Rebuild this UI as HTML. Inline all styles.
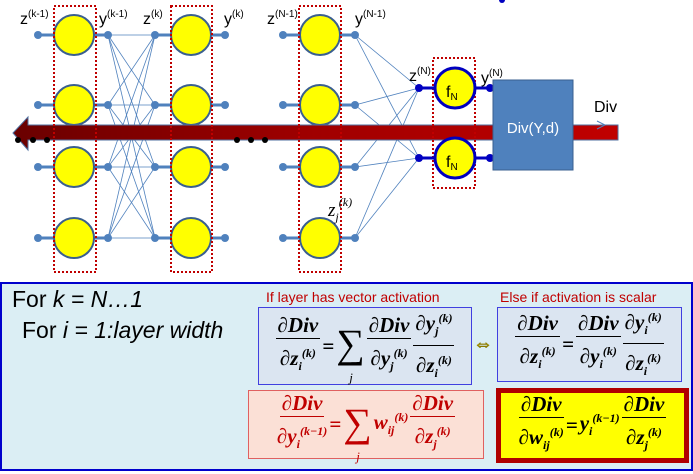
<!DOCTYPE html>
<html><head><meta charset="utf-8"><style>
body{margin:0;width:693px;height:471px;overflow:hidden;background:#fff;font-family:"Liberation Sans",sans-serif;position:relative}
.p{position:absolute}
.fr{display:inline-flex;flex-direction:column;align-items:center;vertical-align:middle}
.fr .n{border-bottom:1.5px solid currentColor;padding:0 2px;line-height:26px}
.fr .d{line-height:28px}
.m{font-family:"Liberation Serif",serif;font-style:italic;font-weight:bold;font-size:21px;display:flex;align-items:center;gap:2px}
sup,sub{font-size:12px}
.sum{font-size:40px;font-style:normal;font-weight:normal;position:relative;line-height:34px;top:-2px}
.sum i{position:absolute;font-size:13px;left:13px;top:34px}
</style></head><body>
<svg class="p" style="left:0;top:0" width="693" height="282" viewBox="0 0 693 282">
<defs><linearGradient id="g" x1="0" x2="1"><stop offset="0" stop-color="#6a0000"/><stop offset="0.5" stop-color="#a00000"/><stop offset="1" stop-color="#c00000"/></linearGradient></defs>
<g stroke="#4f81bd" stroke-width="0.8">
<line x1="108" y1="35" x2="155" y2="35"/><line x1="108" y1="35" x2="155" y2="105"/><line x1="108" y1="35" x2="155" y2="167"/><line x1="108" y1="35" x2="155" y2="238"/>
<line x1="108" y1="105" x2="155" y2="35"/><line x1="108" y1="105" x2="155" y2="105"/><line x1="108" y1="105" x2="155" y2="167"/><line x1="108" y1="105" x2="155" y2="238"/>
<line x1="108" y1="167" x2="155" y2="35"/><line x1="108" y1="167" x2="155" y2="105"/><line x1="108" y1="167" x2="155" y2="167"/><line x1="108" y1="167" x2="155" y2="238"/>
<line x1="108" y1="238" x2="155" y2="35"/><line x1="108" y1="238" x2="155" y2="105"/><line x1="108" y1="238" x2="155" y2="167"/><line x1="108" y1="238" x2="155" y2="238"/>
<line x1="355" y1="35" x2="419" y2="88"/><line x1="355" y1="35" x2="419" y2="158"/>
<line x1="355" y1="105" x2="419" y2="88"/><line x1="355" y1="105" x2="419" y2="158"/>
<line x1="355" y1="167" x2="419" y2="88"/><line x1="355" y1="167" x2="419" y2="158"/>
<line x1="355" y1="238" x2="419" y2="88"/><line x1="355" y1="238" x2="419" y2="158"/>
</g>
<g stroke="#4f81bd" stroke-width="3">
<line x1="38" y1="35" x2="108" y2="35"/><line x1="38" y1="105" x2="108" y2="105"/><line x1="38" y1="167" x2="108" y2="167"/><line x1="38" y1="238" x2="108" y2="238"/>
<line x1="155" y1="35" x2="225" y2="35"/><line x1="155" y1="105" x2="225" y2="105"/><line x1="155" y1="167" x2="225" y2="167"/><line x1="155" y1="238" x2="225" y2="238"/>
<line x1="283" y1="35" x2="355" y2="35"/><line x1="283" y1="105" x2="355" y2="105"/><line x1="283" y1="167" x2="355" y2="167"/><line x1="283" y1="238" x2="355" y2="238"/>
</g>
<g fill="#4f81bd">
<circle cx="38" cy="35" r="4"/><circle cx="38" cy="105" r="4"/><circle cx="38" cy="167" r="4"/><circle cx="38" cy="238" r="4"/>
<circle cx="108" cy="35" r="4"/><circle cx="108" cy="105" r="4"/><circle cx="108" cy="167" r="4"/><circle cx="108" cy="238" r="4"/>
<circle cx="155" cy="35" r="4"/><circle cx="155" cy="105" r="4"/><circle cx="155" cy="167" r="4"/><circle cx="155" cy="238" r="4"/>
<circle cx="225" cy="35" r="4"/><circle cx="225" cy="105" r="4"/><circle cx="225" cy="167" r="4"/><circle cx="225" cy="238" r="4"/>
<circle cx="283" cy="35" r="4"/><circle cx="283" cy="105" r="4"/><circle cx="283" cy="167" r="4"/><circle cx="283" cy="238" r="4"/>
<circle cx="355" cy="35" r="4"/><circle cx="355" cy="105" r="4"/><circle cx="355" cy="167" r="4"/><circle cx="355" cy="238" r="4"/>
</g>
<g fill="#ffff00" stroke="#3a5f8f" stroke-width="2">
<circle cx="74" cy="35" r="20"/><circle cx="74" cy="105" r="20"/><circle cx="74" cy="167" r="20"/><circle cx="74" cy="238" r="20"/>
<circle cx="191" cy="35" r="20"/><circle cx="191" cy="105" r="20"/><circle cx="191" cy="167" r="20"/><circle cx="191" cy="238" r="20"/>
<circle cx="320" cy="35" r="20"/><circle cx="320" cy="105" r="20"/><circle cx="320" cy="167" r="20"/><circle cx="320" cy="238" r="20"/>
</g>
<polygon points="13,133 28,117 28,125 618,125 618,140 28,140 28,150" fill="url(#g)" stroke="#4f6f9f" stroke-width="1"/>
<g fill="#000"><circle cx="18" cy="140" r="3"/><circle cx="33" cy="140" r="3"/><circle cx="47" cy="140" r="3"/><circle cx="237" cy="140" r="3"/><circle cx="251" cy="140" r="3"/><circle cx="265" cy="140" r="3"/></g>
<g fill="none" stroke="#c00000" stroke-width="2" stroke-dasharray="2,2">
<rect x="54" y="6" width="42" height="266"/><rect x="171" y="6" width="41" height="266"/><rect x="299" y="6" width="42" height="266"/><rect x="433" y="58" width="42" height="130"/>
</g>
<g stroke="#0000c0" stroke-width="3"><line x1="419" y1="88" x2="490" y2="88"/><line x1="419" y1="158" x2="490" y2="158"/></g>
<g fill="#0000c0"><circle cx="419" cy="88" r="4"/><circle cx="419" cy="158" r="4"/><circle cx="490" cy="88" r="4"/><circle cx="490" cy="158" r="4"/><circle cx="502" cy="0" r="3"/></g>
<g fill="#ffff00" stroke="#0000c0" stroke-width="3"><circle cx="455" cy="88" r="20"/><circle cx="455" cy="158" r="20"/></g>
<rect x="493" y="80" width="80" height="90" fill="#4f81bd" stroke="#3a5f8f"/>
<text x="533" y="133" fill="#fff" font-size="15" text-anchor="middle" font-family="Liberation Sans">Div(Y,d)</text>
<path d="M597,121 L605,125 L597,129" fill="none" stroke="#4f81bd"/>
<g font-family="Liberation Sans" font-size="16" fill="#000">
<text x="446" y="97">f<tspan font-size="10" dy="3">N</tspan></text>
<text x="446" y="167">f<tspan font-size="10" dy="3">N</tspan></text>
<text x="594" y="112">Div</text>
<text x="20" y="24">z<tspan font-size="10" dy="-7">(k-1)</tspan></text>
<text x="99" y="24">y<tspan font-size="10" dy="-7">(k-1)</tspan></text>
<text x="143" y="24">z<tspan font-size="10" dy="-7">(k)</tspan></text>
<text x="224" y="24">y<tspan font-size="10" dy="-7">(k)</tspan></text>
<text x="267" y="24">z<tspan font-size="10" dy="-7">(N-1)</tspan></text>
<text x="355" y="24">y<tspan font-size="10" dy="-7">(N-1)</tspan></text>
<text x="409" y="81">z<tspan font-size="10" dy="-7">(N)</tspan></text>
<text x="481" y="83">y<tspan font-size="10" dy="-7">(N)</tspan></text>
</g>
<text x="328" y="216" font-family="Liberation Serif" font-style="italic" font-size="19">z<tspan font-size="12" dy="5">j</tspan><tspan font-size="12" dy="-15">(k)</tspan></text>
</svg>

<div class="p" style="left:0;top:282px;width:689px;height:185px;background:#dbeef4;border:2px solid #0000cc"></div>
<div class="p" style="left:12px;top:286px;font-size:23px">For <i>k = N…1</i></div>
<div class="p" style="left:22px;top:317px;font-size:23px">For <i>i = 1:layer width</i></div>
<div class="p" style="left:266px;top:289px;color:#c00000;font-size:14px">If layer has vector activation</div>
<div class="p" style="left:500px;top:289px;color:#c00000;font-size:14px">Else if activation is scalar</div>

<div class="p m" style="left:258px;top:307px;width:212px;height:76px;background:#dbe5f1;border:1px solid #4040e0;justify-content:center">
<span class="fr"><span class="n">∂Div</span><span class="d">∂z<sub>i</sub><sup>(k)</sup></span></span>=<span class="sum">∑<i>j</i></span><span class="fr"><span class="n">∂Div</span><span class="d">∂y<sub>j</sub><sup>(k)</sup></span></span><span class="fr"><span class="n">∂y<sub>j</sub><sup>(k)</sup></span><span class="d">∂z<sub>i</sub><sup>(k)</sup></span></span></div>
<div class="p" style="left:473px;top:333px;color:#e8d000;font-size:20px;-webkit-text-stroke:0.6px #8a7a00">⇔</div>
<div class="p m" style="left:497px;top:307px;width:183px;height:73px;background:#dbe5f1;border:1px solid #4040e0;justify-content:center">
<span class="fr"><span class="n">∂Div</span><span class="d">∂z<sub>i</sub><sup>(k)</sup></span></span>=<span class="fr"><span class="n">∂Div</span><span class="d">∂y<sub>i</sub><sup>(k)</sup></span></span><span class="fr"><span class="n">∂y<sub>i</sub><sup>(k)</sup></span><span class="d">∂z<sub>i</sub><sup>(k)</sup></span></span></div>
<div class="p m" style="left:248px;top:390px;width:234px;height:67px;background:#fbe0d6;border:1px solid #e06060;color:#c00000;justify-content:center">
<span class="fr"><span class="n">∂Div</span><span class="d">∂y<sub>i</sub><sup>(k−1)</sup></span></span>=<span class="sum">∑<i>j</i></span><span>w<sub>ij</sub><sup>(k)</sup></span><span class="fr"><span class="n">∂Div</span><span class="d">∂z<sub>j</sub><sup>(k)</sup></span></span></div>
<div class="p m" style="left:496px;top:388px;width:183px;height:65px;background:#ffff00;border:5px solid #b00000;justify-content:center">
<span class="fr"><span class="n">∂Div</span><span class="d">∂w<sub>ij</sub><sup>(k)</sup></span></span>=<span>y<sub>i</sub><sup>(k−1)</sup></span><span class="fr"><span class="n">∂Div</span><span class="d">∂z<sub>j</sub><sup>(k)</sup></span></span></div>
</body></html>
